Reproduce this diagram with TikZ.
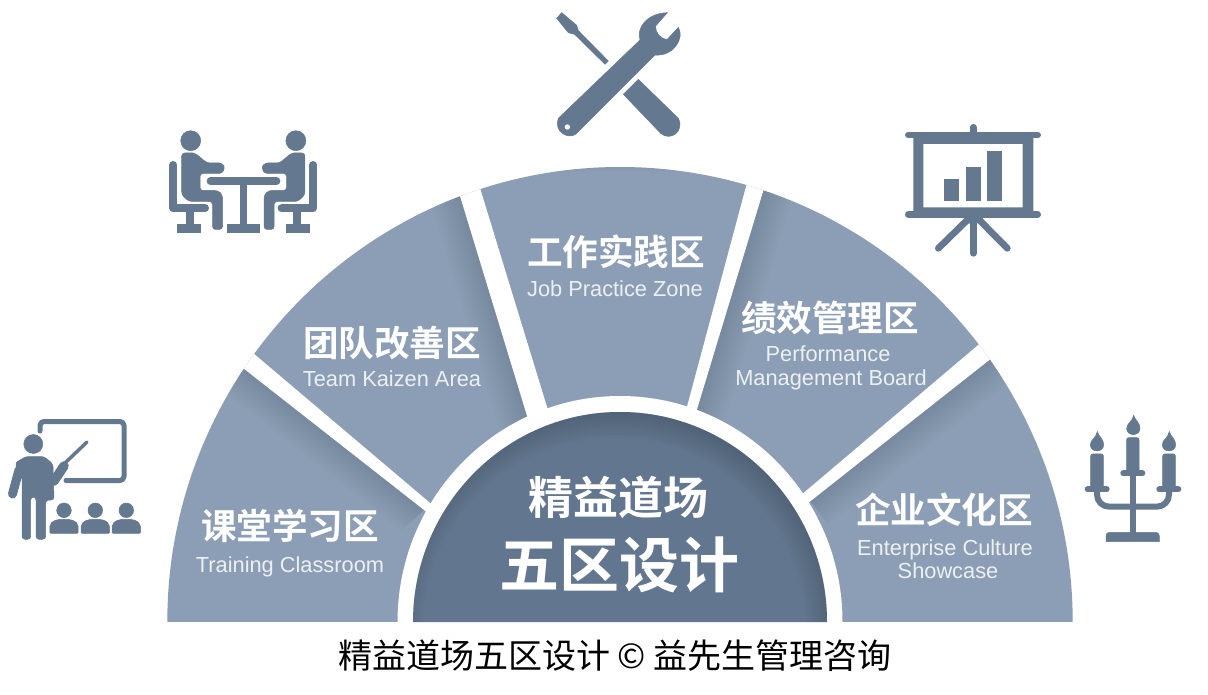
\documentclass[tikz,border=0pt]{standalone}
\usepackage{fontspec}
\setmainfont{Liberation Sans}
\newfontfamily\cjk{Noto Sans CJK SC}
\newfontfamily\cjkb{Noto Sans CJK SC Bold}
\definecolor{segc}{HTML}{8C9EB5}
\definecolor{midc}{HTML}{62778F}
\definecolor{icon}{HTML}{64798F}
\definecolor{shadec}{HTML}{3E4C5C}
\definecolor{entext}{HTML}{EDF0F3}
\tikzset{
  x=1pt,y=-1pt,
  zonecn/.style={text=white,font=\cjkb\fontsize{35.6}{36}\selectfont,inner sep=0pt},
  zoneen/.style={text=entext,font=\fontsize{21.8}{24}\selectfont,align=center,inner sep=0pt,anchor=base},
  ic/.style={fill=icon,draw=icon,line width=.5pt},
  il/.style={draw=icon,line cap=round,line join=round},
  gap/.style={fill=white,draw=none},
  soft/.style={draw=shadec,opacity=.024},
}
\newcommand{\softline}[3]{% clip polygon #1, line #2 -- #3
  \begin{scope}\clip #1;
  \foreach \w in {6,12,...,60}{\draw[soft,line width=\w pt] #2 -- #3;}
  \end{scope}}
\newcommand{\seated}{%
  \fill[ic] (190.7,140.7) circle[radius=10];
  \filldraw[ic,rounded corners=3pt] (181.7,162) -- (181.7,153) -- (190,153) -- (195,153) -- (207,163) -- (222,163) -- (225,168) -- (222,173.5) -- (200,173.5) -- (200,190.5) -- (218,190.5) -- (222.5,195) -- (222.5,229.5) -- (212.5,229.5) -- (212.5,201.5) -- (189,201.5) -- (181.7,195) -- cycle;
  \draw[il,line width=8pt] (173.3,165) -- (173.3,208.3) -- (205,208.3);
  \filldraw[ic] (186,210) rectangle (193,226);
  \filldraw[ic] (177.3,224.3) rectangle (200.7,232.3);
}
\newcommand{\candleflame}[2]{%
  \filldraw[ic] (#1+1,#2) .. controls (#1+5,#2+15) and (#1+20,#2+22) .. (#1+20,#2+39) .. controls (#1+20,#2+64) and (#1-20,#2+64) .. (#1-20,#2+39) .. controls (#1-20,#2+24) and (#1-3,#2+20) .. cycle;}
\begin{document}
\begin{tikzpicture}
\useasboundingbox (0,0) rectangle (1208,695);
\fill[white] (0,0) rectangle (1208,695);
% ring
\begin{scope}
\clip (167.3,622) arc[start angle=180,end angle=0,x radius=452.7pt,y radius=455pt] -- cycle;
\fill[segc] (160,160) rectangle (1080,622);
\softline{(243,368) -- (424,510) -- (300,622) -- (150,622) -- (150,368) -- cycle}{(243,368)}{(424,510)}
\softline{(460,196) -- (545,475) -- (430,502) -- (300,300) -- (300,196) -- cycle}{(460,196)}{(545,475)}
\softline{(763.3,190.7) -- (680,465) -- (808,497) -- (900,300) -- (900,190) -- cycle}{(763.3,190.7)}{(680,465)}
\softline{(990,359.3) -- (810,500.7) -- (900,640) -- (1100,640) -- (1100,359) -- cycle}{(990,359.3)}{(810,500.7)}
\foreach \w in {4,8,...,24}{\draw[soft,line width=\w pt] (500,160) .. controls (580,160) and (660,160) .. (740,160);}
\fill[gap] (235.4,338.1) -- (437.8,509.5) -- (433,517) -- (224.9,353.8) -- cycle;
\fill[gap] (453.3,174) -- (530.4,427) -- (550.4,418) -- (473.3,166.1) -- cycle;
\fill[gap] (752.6,162) -- (684.7,415.3) -- (694,419.2) -- (769.9,168.9) -- cycle;
\fill[gap] (996.8,329.2) -- (795.6,499.7) -- (801,508.6) -- (1008,345.2) -- cycle;
\end{scope}
% inner half disc
\fill[white] (397.5,622) arc[start angle=180,end angle=0,x radius=222.5pt,y radius=226pt] -- cycle;
\begin{scope}
\clip (413,622) arc[start angle=180,end angle=0,x radius=207pt,y radius=210pt] -- cycle;
\fill[midc] (400,400) rectangle (840,622);
\foreach \r in {216,213,...,192}{
  \fill[shadec,opacity=.05,even odd rule] (400,400) rectangle (840,622) (614,630) circle[radius=\r pt];
}
\end{scope}
% texts
\node[zonecn] (job) at (616,252) {工作实践区};
\node[zoneen] (joben) at (615,296) {Job Practice Zone};
\node[zonecn] (team) at (392,343) {团队改善区};
\node[zoneen] (teamen) at (392,386.7) {Team Kaizen Area};
\node[zonecn] (perf) at (830,318) {绩效管理区};
\node[zoneen] (perfa) at (828,361.7) {Performance};
\node[zoneen] (perfb) at (831,385.7) {Management Board};
\node[zonecn] (cult) at (944,510) {企业文化区};
\node[zoneen] (culta) at (945,555) {Enterprise Culture};
\node[zoneen] (cultb) at (948,578.3) {Showcase};
\node[zonecn] (train) at (290,526) {课堂学习区};
\node[zoneen] (trainen) at (290,572.7) {Training Classroom};
\node[zonecn,font=\cjkb\fontsize{45}{45}\selectfont] (mid1) at (618,497) {精益道场};
\node[zonecn,font=\cjkb\fontsize{60}{60}\selectfont] (mid2) at (619,565) {五区设计};
\node[inner sep=0pt,font=\cjk\fontsize{34}{34}\selectfont] (cap) at (615,656) {精益道场五区设计 © 益先生管理咨询};
% icon: trainer
\draw[il,line width=5pt,rounded corners=4pt] (40,431) -- (40,421.5) -- (124,421.5) -- (124,480.5) -- (66,480.5);
\filldraw[ic] (33.3,444) circle[radius=9.5];
\filldraw[ic,rounded corners=3pt] (15,463) -- (26,456.5) -- (44,456.5) -- (53,464) -- (54,500) -- (45.7,500) -- (45.7,539.3) -- (36,539.3) -- (36,497) -- (30.7,497) -- (30.7,539.3) -- (22,539.3) -- (22,476) -- (20,476) -- cycle;
\draw[il,line width=9pt] (19,470) -- (12.5,494);
\draw[il,line width=9.5pt] (54,481) -- (64,466);
\draw[il,line width=3.5pt] (64,464) -- (87,442);
\foreach \sx in {64,95.3,126.3}{
  \filldraw[ic] (\sx,510.3) circle[radius=7.3];
  \filldraw[ic,rounded corners=1pt] (\sx-14.2,533.3) -- (\sx-14.2,527) .. controls (\sx-13,520) and (\sx-6,519.3) .. (\sx,519.3) .. controls (\sx+6,519.3) and (\sx+13,520) .. (\sx+14.2,527) -- (\sx+14.2,533.3) -- cycle;
}
% icon: team
\draw[il,line width=7.7pt] (210.5,181.3) -- (276.5,181.3);
\filldraw[ic] (240,185) rectangle (246.6,226);
\filldraw[ic] (227.7,224.3) rectangle (259,232.3);
\seated
\begin{scope}[xshift=486.6pt,xscale=-1]\seated\end{scope}
% icon: tools
\begin{scope}[shift={(540pt,0pt)},x=.3333pt,y=-.3333pt]
\filldraw[ic] (300,120) .. controls (288,85) and (320,40) .. (382,38) -- (347,78) .. controls (345,95) and (360,118) .. (382,118) -- (415,82) .. controls (435,115) and (400,170) .. (345,165) -- (108,402) .. controls (85,420) and (40,395) .. (55,355) -- cycle;
\fill[white] (82,381) circle[radius=8];
\filldraw[ic] (65,38) -- (50,55) -- (85,98) -- (104,103) -- (195,193) -- (205,183) -- (115,92) -- (110,76) -- cycle;
\filldraw[ic] (250,283) -- (295,238) -- (415,355) .. controls (435,395) and (390,425) .. (362,400) -- cycle;
\end{scope}
% icon: board
\begin{scope}[shift={(890pt,-110pt)},x=.3333pt,y=-.3333pt]
\draw[il,line width=6.7pt] (55,75) -- (443,75);
\draw[il,line width=6.7pt] (55,314) -- (443,314);
\draw[il,line width=6.7pt] (250,52) -- (250,75);
\fill[icon,even odd rule] (70,75) rectangle (430,314) (100,102) rectangle (398,292);
\draw[il,line width=6.7pt] (250,314) -- (250,430);
\fill[icon] (215,320) -- (285,320) -- (250,350) -- cycle;
\draw[il,line width=6.7pt] (232,330) -- (145,415);
\draw[il,line width=6.7pt] (268,330) -- (352,415);
\filldraw[ic] (164,208) rectangle (206,271);
\filldraw[ic] (228,172) rectangle (270,271);
\filldraw[ic] (292,123) rectangle (334,271);
\end{scope}
% icon: candles
\begin{scope}[shift={(1070pt,-400pt)},x=.3333pt,y=-.3333pt]
\draw[il,line width=6pt,line cap=butt,rounded corners=12pt] (81,268) -- (81,320) -- (297,320) -- (297,268);
\draw[icon,line width=6pt] (188,225) -- (188,400);
\filldraw[ic,rounded corners=2pt] (170,218) -- (170,113) -- (207,113) -- (207,218) -- cycle;
\filldraw[ic,rounded corners=2pt] (62,266) -- (62,162) -- (100,162) -- (100,266) -- cycle;
\filldraw[ic,rounded corners=2pt] (278,266) -- (278,162) -- (316,162) -- (316,266) -- cycle;
\draw[il,line width=6pt] (160,220) -- (217,220);
\draw[il,line width=6pt] (53,268) -- (110,268);
\draw[il,line width=6pt] (268,268) -- (325,268);
\filldraw[ic] (108,425) -- (108,408) .. controls (108,400) and (112,397) .. (120,397) -- (256,397) .. controls (264,397) and (268,400) .. (268,408) -- (268,425) -- cycle;
\candleflame{190}{46}
\candleflame{81}{95}
\candleflame{297}{95}
\end{scope}
\end{tikzpicture}
\end{document}
